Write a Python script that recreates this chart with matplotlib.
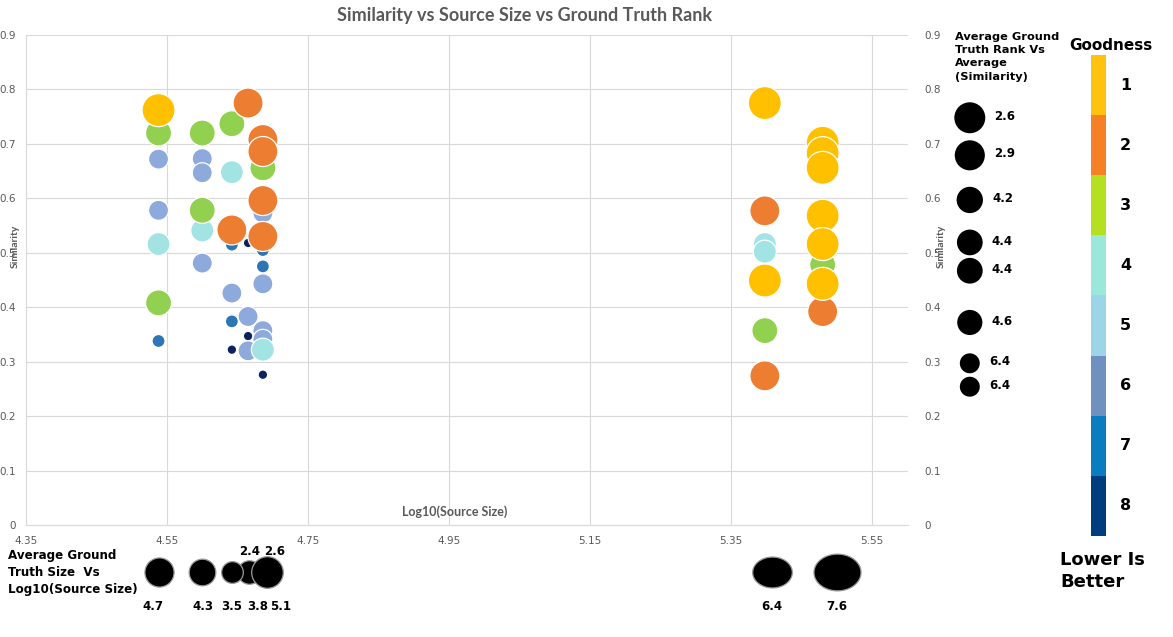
import numpy as np
import matplotlib
matplotlib.use("Agg")
import matplotlib.pyplot as plt
from matplotlib.colors import ListedColormap
from matplotlib.path import Path
import matplotlib.transforms as mtrans

# ---------------- data ----------------
log_size = ([4.538] * 7 + [4.600] * 6 + [4.642] * 7 + [4.665] * 5 + [4.686] * 13
            + [5.398] * 7 + [5.480] * 8)
similarity = [0.762, 0.720, 0.672, 0.578, 0.516, 0.408, 0.338,
              0.720, 0.673, 0.647, 0.578, 0.541, 0.481,
              0.737, 0.648, 0.542, 0.515, 0.426, 0.374, 0.322,
              0.775, 0.518, 0.383, 0.347, 0.320,
              0.708, 0.686, 0.656, 0.596, 0.573, 0.530, 0.505, 0.475, 0.443, 0.357, 0.341, 0.322, 0.276,
              0.775, 0.577, 0.516, 0.502, 0.449, 0.357, 0.274,
              0.702, 0.683, 0.656, 0.568, 0.516, 0.478, 0.443, 0.392]
gt_rank = [1, 3, 6, 6, 4, 3, 7,
           3, 6, 6, 3, 4, 6,
           3, 4, 2, 7, 6, 7, 8,
           2, 8, 6, 8, 6,
           2, 2, 3, 2, 6, 2, 7, 7, 6, 6, 6, 4, 8,
           1, 2, 4, 4, 1, 3, 2,
           1, 1, 1, 1, 1, 3, 1, 2]

# right legend: average ground truth rank vs average similarity
legend_rank = [2.6, 2.9, 4.2, 4.4, 4.4, 4.6, 6.4, 6.4]
legend_sim = [0.748, 0.679, 0.597, 0.519, 0.467, 0.372, 0.297, 0.254]

# bottom legend: average ground truth size vs log10(source size)
bottom_x = [4.538, 4.600, 4.642, 4.667, 4.692, 5.408, 5.500]
bottom_val = [4.7, 4.3, 3.5, 3.8, 5.1, 6.4, 7.6]
bottom_extra = [None, None, None, 2.4, 2.6, None, None]

goodness_levels = ["1", "2", "3", "4", "5", "6", "7", "8"]
x_ticks = [4.35, 4.55, 4.75, 4.95, 5.15, 5.35, 5.55]
y_ticks = [0, 0.1, 0.2, 0.3, 0.4, 0.5, 0.6, 0.7, 0.8, 0.9]

# ---------------- style ----------------
point_colors = {1: "#FFC000", 2: "#ED7D31", 3: "#92D050", 4: "#A2E3E3",
                5: "#9DD3E8", 6: "#8EA9DB", 7: "#2E75B6", 8: "#0B2160"}
point_diam = {1: 33, 2: 30, 3: 26, 4: 23, 5: 22, 6: 20, 7: 13, 8: 9.5}
cb_colors = ["#FFC30F", "#F58025", "#B5E01F", "#9BE8DA",
             "#9CD5E8", "#7090BF", "#0A7CC0", "#003D7F"]
gray = "#595959"
grid = "#D9D9D9"

W, H = 1173, 637
fig = plt.figure(figsize=(W / 100, H / 100), dpi=100)

L, R, T, B = 26, 908, 35, 525
ax = fig.add_axes([L / W, 1 - B / H, (R - L) / W, (B - T) / H])
xmax = 4.35 + (R - L) / 705
ax.set_xlim(4.35, xmax)
ax.set_ylim(0, 0.9)

order = sorted(range(len(gt_rank)), key=lambda i: -gt_rank[i])
xs = [log_size[i] for i in order]
ys = [similarity[i] for i in order]
cs = [point_colors[gt_rank[i]] for i in order]
ss = [(point_diam[gt_rank[i]] * 0.72) ** 2 for i in order]
ax.scatter(xs, ys, s=ss, c=cs, edgecolors="white", linewidths=0.9, zorder=3)

ax.set_xticks(x_ticks)
ax.set_xticklabels([f"{v:.2f}" for v in x_ticks])
ax.set_yticks(y_ticks)
ax.set_yticklabels(["0"] + [f"{v:.1f}" for v in y_ticks[1:]])
ax.tick_params(axis="both", length=0, labelsize=7.5, labelcolor=gray)
ax.tick_params(axis="x", pad=8)
ax.tick_params(axis="y", pad=7)
ax.grid(True, color=grid, linewidth=0.8)
ax.set_axisbelow(True)
for sp in ["top", "right"]:
    ax.spines[sp].set_visible(False)
for sp in ["left", "bottom"]:
    ax.spines[sp].set_color(grid)
    ax.spines[sp].set_linewidth(0.8)

ax2 = ax.twinx()
ax2.set_ylim(0, 0.9)
ax2.set_yticks(y_ticks)
ax2.set_yticklabels(["0"] + [f"{v:.1f}" for v in y_ticks[1:]])
ax2.tick_params(axis="y", length=0, labelsize=7.5, labelcolor=gray, pad=12)
for sp in ax2.spines.values():
    sp.set_visible(False)

fig.text(525 / W, 1 - 15 / H, "Similarity vs Source Size vs Ground Truth Rank",
         ha="center", va="center", fontsize=13, fontweight="bold",
         color=gray, family="Lato")
ax.text(4.35 + (455 - L) / 705, 0.025, "Log10(Source Size)", ha="center",
        va="center", fontsize=9, fontweight="bold", color=gray, family="Lato")
fig.text(15 / W, 1 - 246 / H, "Similarity", rotation=90, ha="center",
         va="center", fontsize=7.5, fontweight="bold", color=gray, family="Lato")
fig.text(941 / W, 1 - 246 / H, "Similarity", rotation=90, ha="center",
         va="center", fontsize=7.5, fontweight="bold", color=gray, family="Lato")

# ---------- right legend ----------
lax = fig.add_axes([950 / W, 1 - B / H, 110 / W, (B - T) / H])
lax.set_xlim(0, 1)
lax.set_ylim(0, 0.9)
lax.axis("off")
ld = [38.5 - 2.9 * r for r in legend_rank]
lax.scatter([0.18] * len(legend_rank), legend_sim, s=[(d * 0.72) ** 2 for d in ld],
            c="black", edgecolors="none")
for r, y, d in zip(legend_rank, legend_sim, ld):
    lax.annotate(f"{r:.1f}", (0.18, y), xytext=((d / 2 + 9) * 0.72, 1),
                 textcoords="offset points", ha="left", va="center",
                 fontsize=8.5, fontweight="bold", color="black")
fig.text(955 / W, 1 - 32 / H, "Average Ground\nTruth Rank Vs\nAverage\n(Similarity)",
         ha="left", va="top", fontsize=8.2, fontweight="bold", color="black",
         linespacing=1.4)

# ---------- bottom legend ----------
bax = fig.add_axes([L / W, 1 - 630 / H, (R - L) / W, 90 / H])
bax.set_xlim(4.35, xmax)
bax.set_ylim(0, 1)
bax.axis("off")
th = np.linspace(0, 2 * np.pi, 60)
ellipse = Path(np.column_stack([np.cos(th), 0.78 * np.sin(th)]), closed=True)
yb = 0.64
label_off = [-6, 1, 0, 8, 13, 0, 0]
extra_off = [0, 0, 0, 0, 8, 0, 0]
for i, (x, v) in enumerate(zip(bottom_x, bottom_val)):
    d = 6.2 * v
    mk = ellipse if x > 5 else "o"
    z = 2 if v == 3.8 else 3
    bax.scatter([x], [yb], s=(d * 0.72) ** 2, c="black", marker=mk,
                edgecolors="#9A9A9A", linewidths=0.9, zorder=z)
    bax.annotate(f"{v:.1f}", (x, 0.26), xytext=(label_off[i] * 0.72, 0),
                 textcoords="offset points", ha="center", va="center",
                 fontsize=8.5, fontweight="bold", color="black")
    if bottom_extra[i] is not None:
        bax.annotate(f"{bottom_extra[i]:.1f}", (x, 0.87),
                     xytext=(extra_off[i] * 0.72, 0),
                     textcoords="offset points", ha="center", va="center",
                     fontsize=8.5, fontweight="bold", color="black")
fig.text(8 / W, 1 - 573 / H, "Average Ground\nTruth Size  Vs\nLog10(Source Size)",
         ha="left", va="center", fontsize=8.6, fontweight="bold", color="black",
         linespacing=1.4)

# ---------- goodness colour bar ----------
cax = fig.add_axes([1091 / W, 1 - 536 / H, 15 / W, 481 / H])
cax.imshow(np.arange(8).reshape(8, 1), cmap=ListedColormap(cb_colors),
           aspect="auto", interpolation="nearest")
cax.axis("off")
tr = mtrans.blended_transform_factory(cax.transAxes, cax.transData)
for i, lab in enumerate(goodness_levels):
    cax.text(2.3, i, lab, transform=tr, ha="center", va="center",
             fontsize=11.5, fontweight="bold", color="black")
fig.text(1111 / W, 1 - 45 / H, "Goodness", ha="center", va="center",
         fontsize=11, fontweight="bold", color="black")
fig.text(1060 / W, 1 - 571 / H, "Lower Is\nBetter", ha="left", va="center",
         fontsize=13, fontweight="bold", color="black", linespacing=1.3)

fig.savefig("out.png", dpi=100)
